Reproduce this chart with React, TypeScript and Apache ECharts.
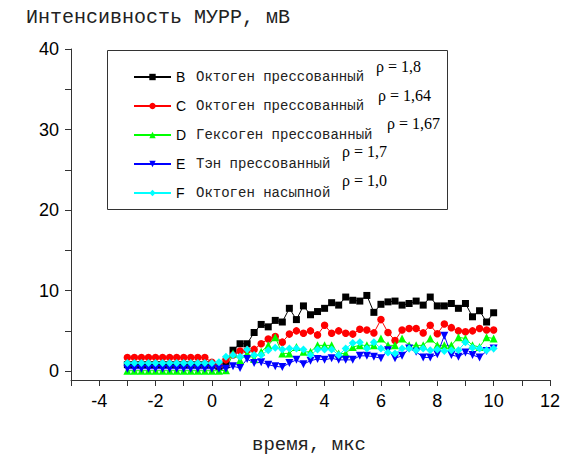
import React, { useEffect, useRef } from "react";
import * as echarts from "echarts";

const times: number[] = [];
for (let i = 0; i <= 52; i++) times.push(-3 + i * 0.25);

const pre = (v: number) => Array(12).fill(v);

const seriesB = [...pre(0.8),
  0.8, 0.6, 0.8, 2.6, 3.4, 3.4, 4.8, 5.8, 5.5, 6.3, 6.1, 7.8, 6.4, 8.1, 7.0, 7.4, 7.8, 8.5, 8.2, 9.2, 8.8,
  8.7, 9.4, 7.3, 8.3, 8.6, 8.7, 8.2, 8.4, 8.7, 8.2, 9.2, 8.1, 8.1, 8.4, 7.8, 8.4, 6.75, 7.5, 6.1, 7.25];
const seriesC = [...pre(1.7),
  1.1, 0.7, 1.4, 2.0, 2.5, 2.6, 2.7, 3.4, 4.0, 4.3, 3.6, 4.6, 5.0, 4.7, 5.0, 4.5, 5.7, 4.7, 5.0, 4.7, 4.6,
  5.2, 5.1, 4.75, 6.4, 4.8, 3.8, 5.1, 5.3, 5.3, 4.75, 5.7, 4.65, 5.85, 5.4, 5.0, 4.9, 5.0, 5.3, 5.1, 5.1];
const seriesD = [...pre(0.05),
  0.05, 0.05, 0.1, 2.2, 1.35, 2.2, 1.5, 2.4, 3.2, 4.2, 2.2, 2.2, 3.0, 2.4, 2.4, 3.2, 3.2, 3.2, 2.2, 2.2, 3.0,
  3.2, 3.2, 3.2, 4.05, 3.2, 3.2, 4.05, 3.2, 3.2, 3.2, 4.05, 3.2, 3.2, 3.2, 4.2, 4.05, 3.2, 3.0, 4.2, 4.05];
const seriesE = [...pre(0.3),
  0.3, 0.3, 0.3, 0.6, 0.4, 1.5, 1.0, 1.1, 0.8, 0.6, 0.5, 1.0, 1.4, 0.85, 1.3, 1.5, 1.4, 1.6, 1.4, 1.4, 1.4,
  1.9, 1.9, 1.8, 1.6, 2.6, 1.6, 1.9, 2.8, 2.4, 1.7, 1.7, 2.1, 4.4, 2.0, 1.8, 2.3, 2.0, 1.7, 2.5, 2.8];
const seriesF = [...pre(1.0),
  1.0, 1.1, 1.8, 2.0, 1.8, 2.7, 2.0, 2.0, 2.6, 2.9, 2.7, 2.8, 2.8, 2.7, 2.0, 2.7, 2.7, 2.7, 2.0, 2.8, 3.5,
  3.6, 2.8, 3.6, 2.8, 2.3, 2.2, 2.8, 2.8, 2.6, 2.8, 2.6, 2.7, 2.5, 2.6, 2.6, 3.6, 2.9, 2.8, 2.6, 2.8];

const letters = ["B", "C", "D", "E", "F"];
const names = [
  "Октоген прессованный",
  "Октоген прессованный ",
  "Гексоген прессованный",
  "Тэн прессованный",
  "Октоген насыпной",
];
const densities = ["ρ = 1,8", "ρ = 1,64", "ρ = 1,67", "ρ = 1,7", "ρ = 1,0"];
const xTicks = [-5, -4, -3, -2, -1, 0, 1, 2, 3, 4, 5, 6, 7, 8, 9, 10, 11, 12];
const xLabels = [-4, -2, 0, 2, 4, 6, 8, 10, 12];
const yTicks = [0, 5, 10, 15, 20, 25, 30, 35, 40];
const yLabels = [0, 10, 20, 30, 40];
const yTitle = "Интенсивность МУРР, мВ";
const xTitle = "время, мкс";

const colors = ["#000000", "#ff0000", "#00ff00", "#0000ff", "#00ffff"];
const symbols = ["rect", "circle", "triangle", "triangle", "diamond"];
const rotates = [0, 0, 0, 180, 0];
const sizes = [7, 7.5, 8, 8, 8];
const allData = [seriesB, seriesC, seriesD, seriesE, seriesF];

const densityPos = [
  [376, 66], [378, 95], [387, 123], [342, 151], [342, 180],
];

export default function App() {
  const ref = useRef<HTMLDivElement>(null);
  useEffect(() => {
    if (!ref.current) return;
    const chart = echarts.init(ref.current, null, { renderer: "svg" });
    const series = allData.map((d, i) => ({
      name: letters[i] + "|" + names[i],
      type: "line",
      data: d.map((v, j) => [times[j], v]),
      symbol: symbols[i],
      symbolSize: sizes[i],
      symbolRotate: rotates[i],
      showAllSymbol: true,
      lineStyle: { color: colors[i], width: 1 },
      itemStyle: { color: colors[i] },
      emphasis: { disabled: true },
    }));
    chart.setOption({
      animation: false,
      grid: { left: 71, top: 49, width: 480, height: 331, containLabel: false },
      xAxis: {
        type: "value",
        min: -5,
        max: 12,
        axisLine: { show: true, onZero: false, lineStyle: { color: "#333", width: 1 } },
        axisTick: { show: true, inside: false, length: 6, customValues: xTicks, lineStyle: { color: "#333" } },
        axisLabel: {
          customValues: xLabels,
          margin: 12,
          fontFamily: "Liberation Sans, Arial, sans-serif",
          fontSize: 18,
          color: "#000",
        },
        splitLine: { show: false },
      },
      yAxis: {
        type: "value",
        min: -1.1,
        max: 40,
        axisLine: { show: true, onZero: false, lineStyle: { color: "#333", width: 1 } },
        axisTick: { show: true, inside: false, length: 6, customValues: yTicks, lineStyle: { color: "#333" } },
        axisLabel: {
          customValues: yLabels,
          margin: 12,
          fontFamily: "Liberation Sans, Arial, sans-serif",
          fontSize: 18,
          color: "#000",
        },
        splitLine: { show: false },
      },
      legend: {
        orient: "vertical",
        left: 133,
        top: 69,
        padding: 0,
        itemWidth: 37,
        itemHeight: 8,
        itemGap: 13,
        selectedMode: false,
        formatter: (name: string) => {
          const [l, t] = name.split("|");
          return `{l|${l}}{t|${t.trim()}}`;
        },
        textStyle: {
          lineHeight: 16,
          rich: {
            l: { fontFamily: "Liberation Sans, Arial, sans-serif", fontSize: 14, width: 20, lineHeight: 16, color: "#000" },
            t: { fontFamily: "Liberation Mono, monospace", fontSize: 14, lineHeight: 16, color: "#222" },
          },
        },
      },
      graphic: [
        {
          type: "rect",
          shape: { x: 107.5, y: 50.5, width: 340, height: 159 },
          style: { fill: "none", stroke: "#333", lineWidth: 1 },
          z: 1,
        },
        {
          type: "text",
          left: 26,
          top: 7,
          style: {
            text: yTitle,
            fontFamily: "Liberation Mono, monospace",
            fontSize: 20,
            fill: "#222",
          },
        },
        {
          type: "text",
          x: 309,
          y: 445,
          style: {
            text: xTitle,
            fontFamily: "Liberation Mono, monospace",
            fontSize: 19,
            fill: "#222",
            align: "center",
            verticalAlign: "middle",
          },
        },
        ...densities.map((t, i) => ({
          type: "text",
          x: densityPos[i][0],
          y: densityPos[i][1],
          style: {
            text: t,
            fontFamily: "Liberation Serif, Times New Roman, serif",
            fontSize: 16,
            fill: "#000",
            verticalAlign: "middle",
          },
        })),
      ],
      series,
    });
    return () => chart.dispose();
  }, []);
  return <div ref={ref} style={{ width: 563, height: 457, position: "absolute", left: 0, top: 0 }} />;
}
